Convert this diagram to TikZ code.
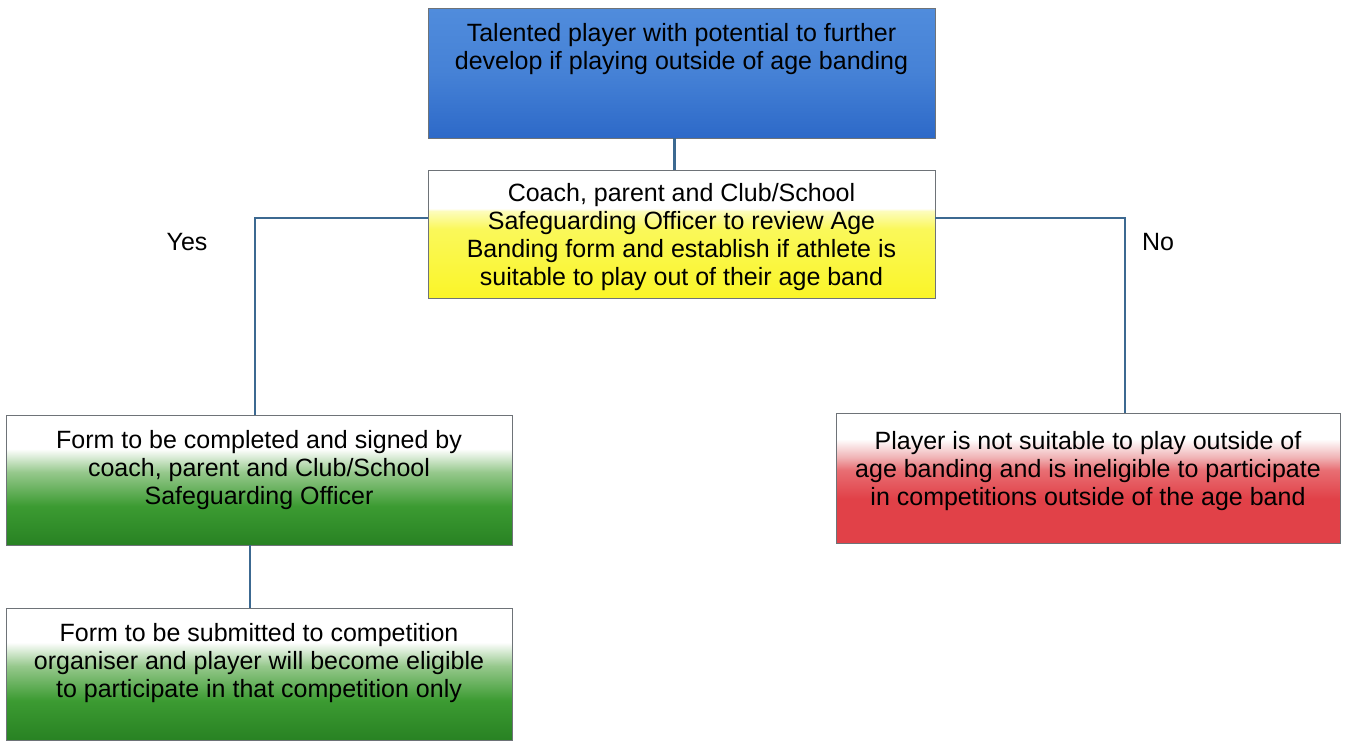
\documentclass[tikz,border=0pt]{standalone}
\usepackage{fontspec}
\setmainfont{Liberation Sans}
\definecolor{blueT}{RGB}{80,140,220}
\definecolor{blueB}{RGB}{45,105,200}
\definecolor{yelB}{RGB}{250,245,40}
\definecolor{yelM}{RGB}{250,248,90}
\definecolor{grnB}{RGB}{40,130,35}
\definecolor{grnM}{RGB}{60,155,50}
\definecolor{grnL}{RGB}{150,200,140}
\definecolor{redB}{RGB}{225,65,72}
\definecolor{redM}{RGB}{232,110,115}
\definecolor{redL}{RGB}{240,180,182}
\definecolor{linkc}{RGB}{60,105,145}
\definecolor{edgec}{RGB}{110,115,120}
\pgfdeclareverticalshading{blueshade}{100bp}{color(0bp)=(blueB); color(25bp)=(blueB); color(50bp)=(blueT!70!blueB); color(75bp)=(blueT); color(100bp)=(blueT)}
\pgfdeclareverticalshading{yelshade}{100bp}{color(0bp)=(yelB); color(25bp)=(yelB); color(52bp)=(yelM); color(59bp)=(white!60!yelM); color(60bp)=(white); color(100bp)=(white)}
\pgfdeclareverticalshading{grnshade}{100bp}{color(0bp)=(grnB); color(25bp)=(grnB); color(40bp)=(grnM); color(53bp)=(grnL); color(62bp)=(white); color(100bp)=(white)}
\pgfdeclareverticalshading{redshade}{100bp}{color(0bp)=(redB); color(25bp)=(redB); color(42bp)=(redB); color(53bp)=(redM); color(58bp)=(redL); color(65bp)=(white); color(100bp)=(white)}
\tikzset{
  box/.style={draw=edgec, line width=0.8pt, rectangle, minimum width=507pt, minimum height=130pt, inner sep=0pt},
  txt/.style={anchor=north, align=center, inner sep=0pt, font=\fontsize{25}{28}\selectfont},
  link/.style={draw=linkc, line width=2.2pt},
  lab/.style={font=\fontsize{25}{28}\selectfont, inner sep=0pt}
}
\begin{document}
\begin{tikzpicture}[x=1pt,y=-1pt]
\useasboundingbox (0,0) rectangle (1345,742);
\fill[white] (0,0) rectangle (1345,742);
% boxes
\node[box, shading=blueshade] (top) at (681.5,73) {};
\node[box, shading=yelshade, minimum height=128pt] (mid) at (681.5,234) {};
\node[box, shading=grnshade, minimum width=506pt] (g1) at (259,480) {};
\node[box, shading=grnshade, minimum width=506pt, minimum height=132pt] (g2) at (259,674) {};
\node[box, shading=redshade, minimum width=504pt] (red) at (1088,478) {};
% texts
\node[txt] (ttop) at ([yshift=-16pt]top.north) {Talented player with potential to further\\develop if playing outside of age banding};
\node[txt] (tmid) at ([yshift=-14pt]mid.north) {Coach, parent and Club/School\\Safeguarding Officer to review Age\\Banding form and establish if athlete is\\suitable to play out of their age band};
\node[txt] (tg1) at ([yshift=-16pt]g1.north) {Form to be completed and signed by\\coach, parent and Club/School\\Safeguarding Officer};
\node[txt] (tg2) at ([yshift=-16pt]g2.north) {Form to be submitted to competition\\organiser and player will become eligible\\to participate in that competition only};
\node[txt] (tred) at ([yshift=-19pt]red.north) {Player is not suitable to play outside of\\age banding and is ineligible to participate\\in competitions outside of the age band};
% connectors
\draw[link] ([xshift=-7pt]top.south) -- ([xshift=-7pt]mid.north);
\draw[link] ([yshift=16pt]mid.west) -| ([xshift=-4pt]g1.north);
\draw[link] ([yshift=16pt]mid.east) -| ([xshift=37pt]red.north);
\draw[link] ([xshift=-9pt]g1.south) -- ([xshift=-9pt]g2.north);
% labels
\node[lab] (yes) at (187,242) {Yes};
\node[lab] (no) at (1158,242) {No};
\end{tikzpicture}
\end{document}
